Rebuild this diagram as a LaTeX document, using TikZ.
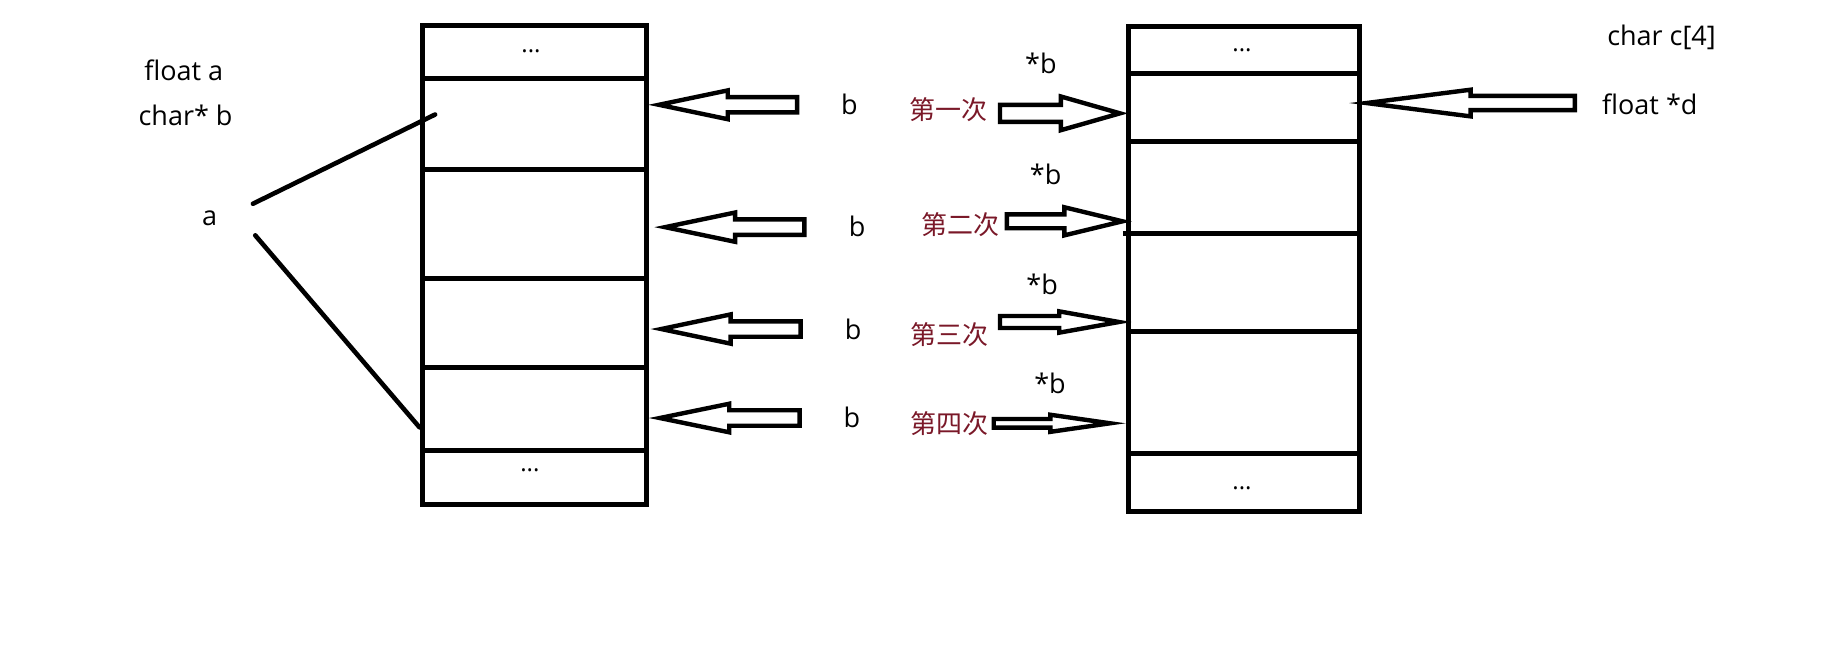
\documentclass[tikz,border=0pt]{standalone}
\usepackage{fontspec}
\setmainfont{Open Sans}
\newfontfamily\cjk{Noto Sans CJK SC}
\definecolor{redtxt}{RGB}{122,24,40}
\newcommand\hollowarrow[6]{% #1 tip x, #2 head back x, #3 tail x, #4 y, #5 shaft half width, #6 head half width
  \draw[hollow] (#1,#4) -- (#2,#4-#6) -- (#2,#4-#5) -- (#3,#4-#5) -- (#3,#4+#5) -- (#2,#4+#5) -- (#2,#4+#6) -- cycle;}
\begin{document}
\begin{tikzpicture}[x=1.171pt,y=-1.171pt,
  lbl/.style={font=\fontsize{27}{32}\selectfont, inner sep=0pt},
  cn/.style={font=\cjk\fontsize{26}{31}\selectfont, text=redtxt, inner sep=0pt},
  dots/.style={font=\fontsize{24}{28}\selectfont, inner sep=0pt},
  boxline/.style={line width=5pt},
  hollow/.style={line width=4.4pt, line join=miter, miter limit=20},
  link/.style={line width=4.6pt, line cap=round}]
\useasboundingbox (0,0) rectangle (1568,553);
% left memory block
\draw[boxline] (360.5,22) rectangle (552,431);
\foreach \yy in {67,145,238,314,385} \draw[boxline] (360.5,\yy) -- (553,\yy);
\node[dots] (ldotsT) at (453.5,44) {...};
\node[dots] (ldotsB) at (452.5,402) {...};
% right memory block
\draw[boxline] (963.5,22.6) rectangle (1161,437);
\foreach \yy in {63,121,283,387} \draw[boxline] (963.5,\yy) -- (1162,\yy);
\draw[boxline] (959,199) -- (1162,199);
\node[dots] (rdotsT) at (1060.7,43) {...};
\node[dots] (rdotsB) at (1060.7,417) {...};
% left labels
\node[lbl] (fa) at (157,60) {float a};
\node[lbl] (cb) at (158.5,98.6) {char* b};
\node[lbl] (a) at (179,186) {a};
\draw[link] (216,174) -- (371.6,97.8);
\draw[link] (218,201) -- (358.3,365);
% left-pointing hollow arrows with b
\hollowarrow{562.7}{621.5}{680.8}{89.5}{6.5}{12.3}
\hollowarrow{568}{627.8}{687}{194}{6.6}{12.5}
\hollowarrow{564.7}{624}{683.7}{281}{6.6}{12.5}
\hollowarrow{563.5}{622.8}{682.9}{357}{6.6}{12.2}
\node[lbl] (b1) at (725.5,89.5) {b};
\node[lbl] (b2) at (732,193.7) {b};
\node[lbl] (b3) at (728.5,281) {b};
\node[lbl] (b4) at (727.6,356.5) {b};
% red labels
\node[cn] (n1) at (810,93.3) {第一次};
\node[cn] (n2) at (820.5,192) {第二次};
\node[cn] (n3) at (811,286) {第三次};
\node[cn] (n4) at (810.5,362) {第四次};
% *b labels
\node[lbl] (sb1) at (889,54) {*b};
\node[lbl] (sb2) at (893,149) {*b};
\node[lbl] (sb3) at (890,243) {*b};
\node[lbl] (sb4) at (896.7,327) {*b};
% right-pointing hollow arrows
\hollowarrow{956.5}{906}{854}{96.8}{7.3}{14.4}
\hollowarrow{958.6}{909}{859.9}{189}{5.9}{12}
\hollowarrow{955.6}{904.6}{854}{275}{5.1}{9.1}
\hollowarrow{948}{897}{848.7}{361.5}{3.7}{7.3}
% right labels
\node[lbl] (cc) at (1419,32) {char c[4]};
\node[lbl] (fd) at (1409,89) {float *d};
\hollowarrow{1167}{1256}{1345}{88}{6.1}{11.4}
\end{tikzpicture}
\end{document}
